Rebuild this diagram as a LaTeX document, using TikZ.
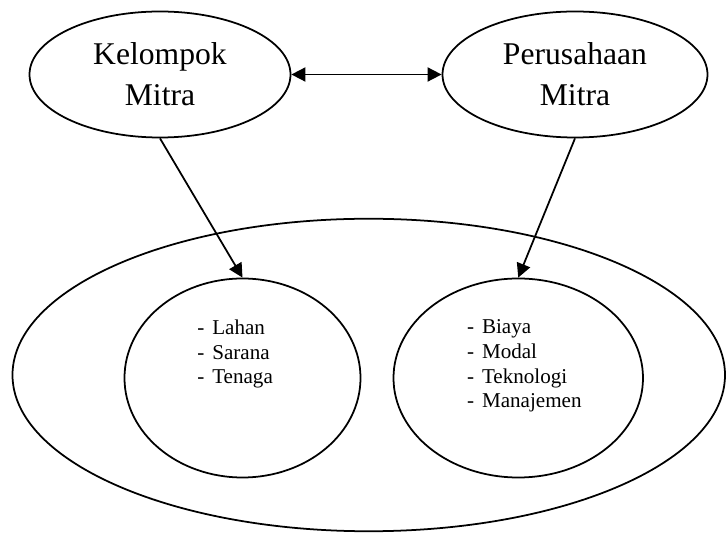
\documentclass[tikz,border=0pt]{standalone}
\usepackage{fontspec}
\setmainfont{Liberation Serif}
\usetikzlibrary{arrows.meta,shapes.geometric}

\newcommand{\butir}[1]{\makebox[8.5pt][l]{-}#1}

\begin{document}
\begin{tikzpicture}[
    >={Triangle[length=8pt,width=8pt]},
    garis/.style={line width=1pt},
    mitra/.style={draw, ellipse, garis, inner sep=0pt, minimum width=5.22cm,
      minimum height=2.52cm, align=center, font=\fontsize{18}{23.5}\selectfont},
    lingkar/.style={draw, ellipse, garis, inner sep=0pt},
    daftar/.style={anchor=north west, inner sep=0pt, align=left,
      font=\fontsize{12}{14}\selectfont}
  ]
    \useasboundingbox (0,0) rectangle (14.54,-10.66);
    \node[lingkar, minimum width=14.25cm, minimum height=6.25cm] (wadah) at (7.375,-7.5) {};
    \node[mitra] (kelompok) at (3.2,-1.49) {Kelompok\\Mitra};
    \node[mitra, minimum width=5.3cm] (perusahaan) at (11.5,-1.49) {Perusahaan\\Mitra};
    \node[lingkar, minimum width=4.72cm, minimum height=3.98cm] (lahan) at (4.85,-7.56) {};
    \node[lingkar, minimum width=4.99cm, minimum height=3.98cm] (biaya) at (10.365,-7.56) {};
    \node[daftar] (isikiri) at ([shift={(-0.91,1.17)}]lahan.center)
      {\butir{Lahan}\\\butir{Sarana}\\\butir{Tenaga}};
    \node[daftar] (isikanan) at ([shift={(-1.03,1.17)}]biaya.center)
      {\butir{Biaya}\\\butir{Modal}\\\butir{Teknologi}\\\butir{Manajemen}};
    \draw[garis, <->] (kelompok.east) -- (perusahaan.west);
    \draw[garis, ->] (kelompok.south) -- (lahan.north);
    \draw[garis, ->] (perusahaan.south) -- (biaya.north);
\end{tikzpicture}
\end{document}
